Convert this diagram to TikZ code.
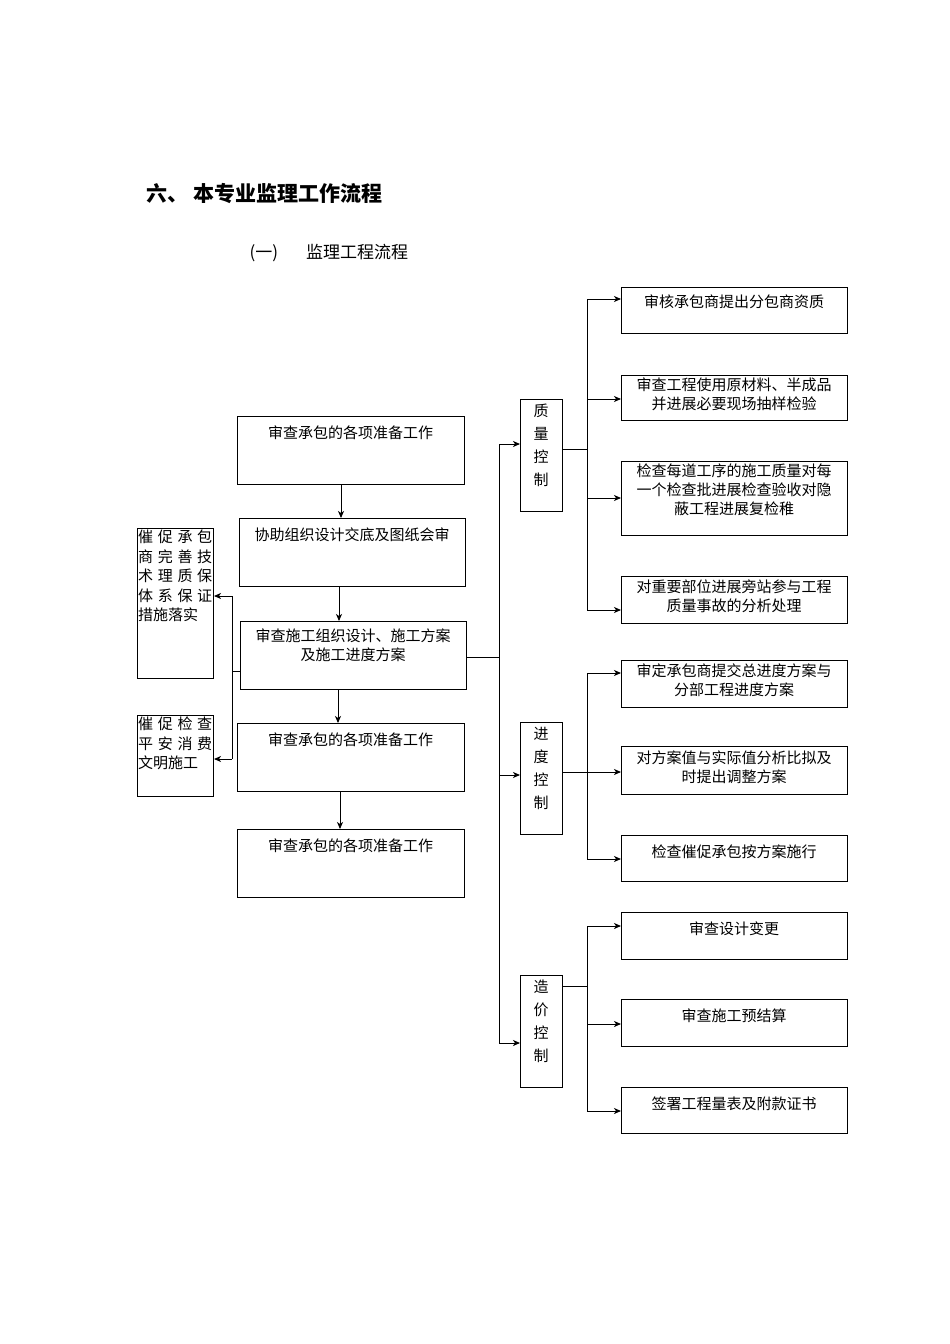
\documentclass[tikz,border=0pt]{standalone}
\usepackage{fontspec}
\setmainfont{Noto Sans CJK SC}
\usetikzlibrary{arrows.meta}
\newcommand{\spr}[4]{\hbox to 74pt{#1\hfill#2\hfill#3\hfill#4}}
\begin{document}
\begin{tikzpicture}[x=1pt,y=-1pt,
  bx/.style={draw,line width=0.9pt,inner sep=0pt},
  t/.style={font=\fontsize{15}{19}\selectfont,align=center,anchor=north},
  ar/.style={line width=0.9pt,-{Stealth[length=7pt,width=6pt,inset=2pt]}},
  ln/.style={line width=0.9pt}]
\useasboundingbox (0,0) rectangle (950,1344);
\fill[white] (0,0) rectangle (950,1344);
\node[anchor=west,font=\bfseries\fontsize{21}{24}\selectfont] (title) at (143,194) {六、 本专业监理工作流程};
\node[anchor=west,font=\fontsize{17}{20}\selectfont] (sub) at (246,253) {(一)\hspace{28pt}监理工程流程};
% main boxes
\draw[bx] (237,416) rectangle (464,484) node[midway] (A) {}; \coordinate (At) at (350.5,484);
\node[t] at (350.5,422) {审查承包的各项准备工作};
\draw[bx] (239,518) rectangle (465,586); \node[t] at (352,524) {协助组织设计交底及图纸会审};
\draw[bx] (240,621) rectangle (466,689); \node[t] at (353,625) {审查施工组织设计、施工方案\\及施工进度方案};
\draw[bx] (237,723) rectangle (464,791); \node[t] at (350.5,729) {审查承包的各项准备工作};
\draw[bx] (237,829) rectangle (464,897); \node[t] at (350.5,835) {审查承包的各项准备工作};
\coordinate (a1) at (341,484); \coordinate (b1) at (341,518);
\coordinate (b2) at (339,586); \coordinate (c1) at (339,621);
\coordinate (c2) at (338,689); \coordinate (d1) at (338,723);
\coordinate (d2) at (340,791); \coordinate (e1) at (340,829);
\draw[ar] (a1)--(b1); \draw[ar] (b2)--(c1); \draw[ar] (c2)--(d1); \draw[ar] (d2)--(e1);
% left boxes
\draw[bx] (137,528) rectangle (213,678);
\node[anchor=north west,inner sep=0pt,font=\fontsize{15}{19.5}\selectfont,align=left] (l1) at (138,530)
 {\spr{催}{促}{承}{包}\\\spr{商}{完}{善}{技}\\\spr{术}{理}{质}{保}\\\spr{体}{系}{保}{证}\\措施落实};
\draw[bx] (137,715) rectangle (213,796);
\node[anchor=north west,inner sep=0pt,font=\fontsize{15}{19.5}\selectfont,align=left] (l2) at (138,717)
 {\spr{催}{促}{检}{查}\\\spr{平}{安}{消}{费}\\文明施工};
\draw[ln] (240,671)--(232,671); \draw[ln] (232,596)--(232,759);
\draw[ar] (232,596)--(214,596); \draw[ar] (232,759)--(214,759);
% trunk
\draw[ln] (466,657)--(499,657); \draw[ln] (499,444)--(499,1043);
\draw[ar] (499,444)--(520,444); \draw[ar] (499,775)--(520,775); \draw[ar] (499,1043)--(520,1043);
% category boxes
\tikzset{cat/.style={font=\fontsize{15}{23}\selectfont,align=center}}
\draw[bx] (520,399) rectangle (562,511); \node[cat] (q) at (541,445) {质\\量\\控\\制};
\draw[bx] (520,722) rectangle (562,834); \node[cat] (p) at (541,768) {进\\度\\控\\制};
\draw[bx] (520,975) rectangle (562,1087); \node[cat] (z) at (541,1021) {造\\价\\控\\制};
% Q branch
\draw[ln] (562,449)--(587,449); \draw[ln] (587,299)--(587,610);
\foreach \y in {299,399,498,610} \draw[ar] (587,\y)--(621,\y);
\draw[bx] (621,287) rectangle (847,333); \node[t] at (734,291) {审核承包商提出分包商资质};
\draw[bx] (621,375) rectangle (847,420); \node[t] at (734,374) {审查工程使用原材料、半成品\\并进展必要现场抽样检验};
\draw[bx] (621,461) rectangle (847,535); \node[t] at (734,460) {检查每道工序的施工质量对每\\一个检查批进展检查验收对隐\\蔽工程进展复检稚};
\draw[bx] (621,576) rectangle (847,623); \node[t] at (734,576) {对重要部位进展旁站参与工程\\质量事故的分析处理};
% P branch
\draw[ln] (562,772)--(587,772); \draw[ln] (587,673)--(587,859);
\foreach \y in {673,772,859} \draw[ar] (587,\y)--(621,\y);
\draw[bx] (621,660) rectangle (847,707); \node[t] at (734,660) {审定承包商提交总进度方案与\\分部工程进度方案};
\draw[bx] (621,746) rectangle (847,794); \node[t] at (734,747) {对方案值与实际值分析比拟及\\时提出调整方案};
\draw[bx] (621,835) rectangle (847,881); \node[t] at (734,841) {检查催促承包按方案施行};
% Z branch
\draw[ln] (562,986)--(587,986); \draw[ln] (587,926)--(587,1111);
\foreach \y in {926,1024,1111} \draw[ar] (587,\y)--(621,\y);
\draw[bx] (621,912) rectangle (847,959); \node[t] at (734,918) {审查设计变更};
\draw[bx] (621,999) rectangle (847,1046); \node[t] at (734,1005) {审查施工预结算};
\draw[bx] (621,1087) rectangle (847,1133); \node[t] at (734,1093) {签署工程量表及附款证书};
\end{tikzpicture}
\end{document}
